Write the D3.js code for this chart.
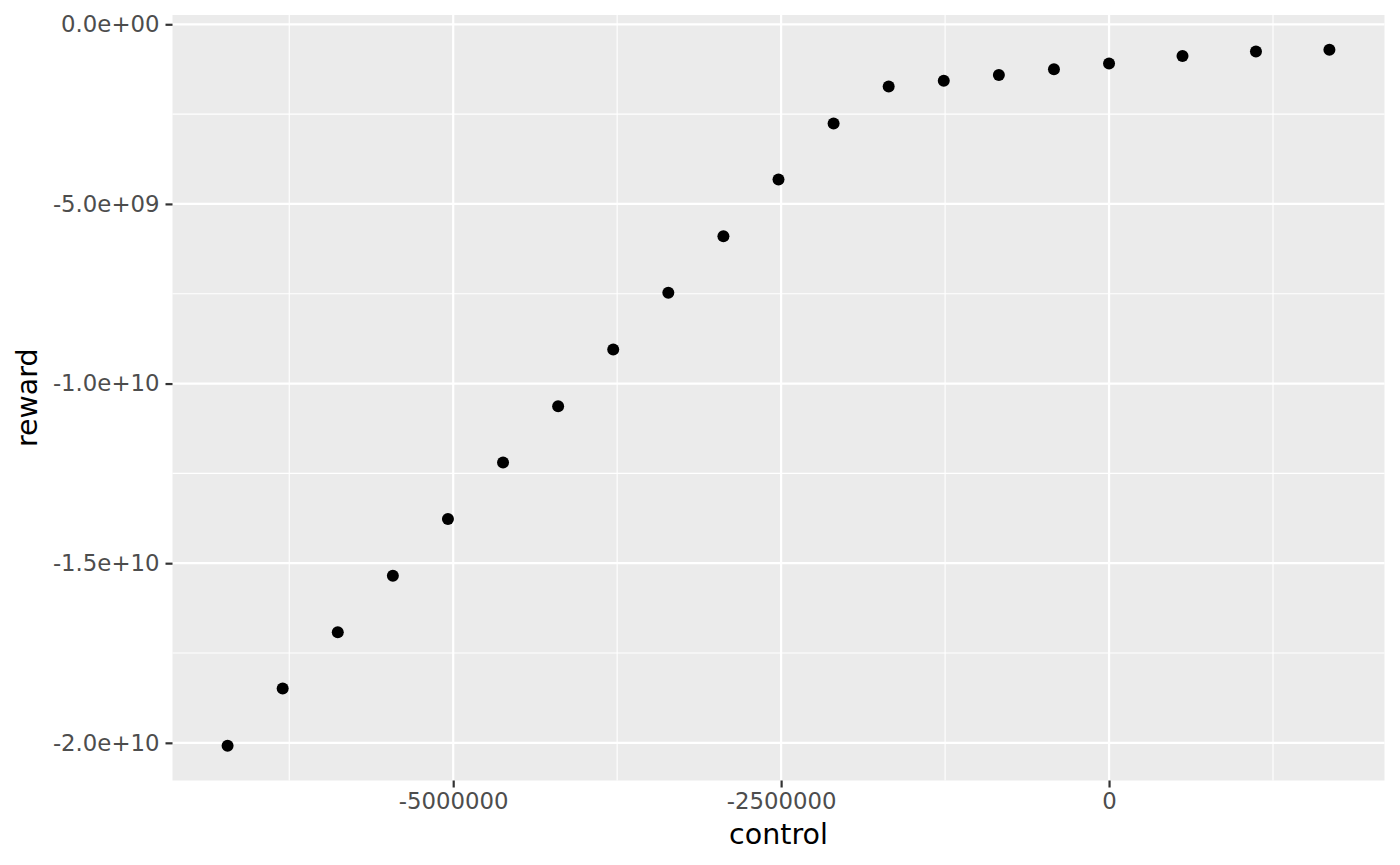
<!DOCTYPE html>
<html>
<head>
<meta charset="utf-8">
<script src="https://cdn.jsdelivr.net/npm/d3@7"></script>
<style>
  html, body { margin: 0; padding: 0; background: #ffffff; }
  svg { display: block; font-family: "DejaVu Sans", sans-serif; }
</style>
</head>
<body>
<svg id="chart" width="1400" height="865"></svg>
<script>
// ---- data ----
const control = [-6720000, -6300000, -5880000, -5460000, -5040000, -4620000, -4200000, -3780000,
  -3360000, -2940000, -2520000, -2100000, -1680000, -1260000, -840000, -420000, 0, 560000, 1120000, 1680000];
const reward = [-20.08e9, -18.49e9, -16.92e9, -15.35e9, -13.77e9, -12.20e9, -10.63e9, -9.05e9,
  -7.47e9, -5.90e9, -4.32e9, -2.76e9, -1.73e9, -1.57e9, -1.41e9, -1.25e9, -1.09e9, -0.88e9, -0.76e9, -0.71e9];
const xTicks = [-5000000, -2500000, 0];
const xTickLabels = ["-5000000", "-2500000", "0"];
const xMinor = [-6250000, -3750000, -1250000, 1250000];
const yTicks = [0, -5e9, -1e10, -1.5e10, -2e10];
const yTickLabels = ["0.0e+00", "-5.0e+09", "-1.0e+10", "-1.5e+10", "-2.0e+10"];
const yMinor = [-2.5e9, -7.5e9, -1.25e10, -1.75e10];
const xTitle = "control";
const yTitle = "reward";

// ---- layout ----
const svg = d3.select("#chart");
const panel = { left: 172.5, right: 1384.5, top: 15, bottom: 780.5 };

function expand(ext) {
  const pad = (ext[1] - ext[0]) * 0.05;
  return [ext[0] - pad, ext[1] + pad];
}
const x = d3.scaleLinear().domain(expand(d3.extent(control))).range([panel.left, panel.right]);
const y = d3.scaleLinear().domain(expand(d3.extent(reward))).range([panel.bottom, panel.top]);

// panel background
svg.append("rect")
  .attr("x", panel.left).attr("y", panel.top)
  .attr("width", panel.right - panel.left).attr("height", panel.bottom - panel.top)
  .attr("fill", "#EBEBEB");

const grid = svg.append("g");
// minor grid
grid.selectAll("line.xmin").data(xMinor).enter().append("line")
  .attr("x1", d => x(d)).attr("x2", d => x(d))
  .attr("y1", panel.top).attr("y2", panel.bottom)
  .attr("stroke", "#ffffff").attr("stroke-width", 1.1);
grid.selectAll("line.ymin").data(yMinor).enter().append("line")
  .attr("y1", d => y(d)).attr("y2", d => y(d))
  .attr("x1", panel.left).attr("x2", panel.right)
  .attr("stroke", "#ffffff").attr("stroke-width", 1.1);
// major grid
grid.selectAll("line.xmaj").data(xTicks).enter().append("line")
  .attr("x1", d => x(d)).attr("x2", d => x(d))
  .attr("y1", panel.top).attr("y2", panel.bottom)
  .attr("stroke", "#ffffff").attr("stroke-width", 2.2);
grid.selectAll("line.ymaj").data(yTicks).enter().append("line")
  .attr("y1", d => y(d)).attr("y2", d => y(d))
  .attr("x1", panel.left).attr("x2", panel.right)
  .attr("stroke", "#ffffff").attr("stroke-width", 2.2);

// axes
const xAxis = d3.axisBottom(x).tickValues(xTicks)
  .tickFormat((d, i) => xTickLabels[i]).tickSize(7).tickPadding(5);
const gx = svg.append("g").attr("transform", `translate(0,${panel.bottom})`).call(xAxis);
gx.select(".domain").remove();
gx.selectAll(".tick line").attr("stroke", "#333333").attr("stroke-width", 2.2);
gx.selectAll(".tick text").attr("fill", "#4D4D4D").style("font-size", "22.8px")
  .style("font-family", "DejaVu Sans, sans-serif");

const yAxis = d3.axisLeft(y).tickValues(yTicks)
  .tickFormat((d, i) => yTickLabels[i]).tickSize(7).tickPadding(6);
const gy = svg.append("g").attr("transform", `translate(${panel.left},0)`).call(yAxis);
gy.select(".domain").remove();
gy.selectAll(".tick line").attr("stroke", "#333333").attr("stroke-width", 2.2);
gy.selectAll(".tick text").attr("fill", "#4D4D4D").style("font-size", "22.8px")
  .style("font-family", "DejaVu Sans, sans-serif");

// titles
svg.append("text")
  .attr("x", (panel.left + panel.right) / 2).attr("y", 844)
  .attr("text-anchor", "middle").attr("fill", "#000000")
  .style("font-size", "28.5px").text(xTitle);
svg.append("text")
  .attr("transform", `translate(37,${(panel.top + panel.bottom) / 2}) rotate(-90)`)
  .attr("text-anchor", "middle").attr("fill", "#000000")
  .style("font-size", "28.5px").text(yTitle);

// points
const pts = control.map((c, i) => ({ c, r: reward[i] }));
svg.append("g").selectAll("circle").data(pts).enter().append("circle")
  .attr("cx", d => x(d.c)).attr("cy", d => y(d.r))
  .attr("r", 6).attr("fill", "#000000");
</script>
</body>
</html>
